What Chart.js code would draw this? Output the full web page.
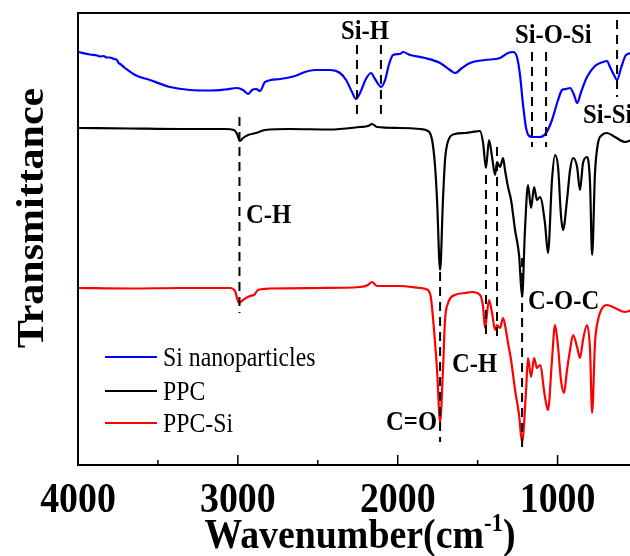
<html lang="en">
<head>
    <meta charset="UTF-8">
    <title>FTIR</title>
    <script src="https://cdn.jsdelivr.net/npm/chart.js"></script>
    <style>
        body {
            margin: 0;
            overflow: hidden;
            background: #fff;
        }
        #box {
            width: 660px;
            height: 556px;
        }
    </style>
</head>
<body>
    <div id="box"><canvas id="ftirChart"></canvas></div>

    <script>
        // wavenumbers (cm-1) and transmittance (a.u.)
        const siWn = [4000, 3925, 3880, 3860, 3840, 3820, 3800, 3775, 3756, 3746, 3736, 3706, 3643, 3550, 3424, 3299, 3174, 3080, 3005, 2968, 2936, 2911, 2886, 2861, 2830, 2736, 2642, 2580, 2517, 2423, 2361, 2323, 2286, 2261, 2236, 2199, 2167, 2142, 2104, 2079, 2054, 2029, 1986, 1967, 1923, 1829, 1735, 1673, 1642, 1598, 1548, 1454, 1360, 1310, 1279, 1254, 1235, 1216, 1197, 1178, 1153, 1110, 1072, 1035, 997, 972, 947, 922, 897, 878, 853, 816, 766, 716, 691, 672, 647, 628, 603, 572, 534, 422];
        const siT  = [413, 410.5, 409.5, 408.5, 409, 407.5, 407.5, 406, 405, 402, 401, 397, 390, 385, 378, 375, 374.5, 375.5, 377, 375, 371, 375, 376, 374, 383, 386, 389, 393, 395, 395, 392, 385, 373, 366, 372, 386, 392, 386, 378, 385, 401, 410, 411, 413, 410, 407, 402, 395, 392, 397, 402, 405, 407, 412, 413, 408, 390, 360, 337, 329, 328, 328, 332, 345, 365, 375, 376, 377, 370, 362, 373, 388, 399, 403, 404, 398, 390, 385, 397, 410, 412, 413];

        const ppcWn = [4000, 3675, 3362, 3080, 3024, 3005, 2987, 2968, 2936, 2886, 2830, 2674, 2423, 2236, 2186, 2161, 2129, 1986, 1861, 1811, 1785, 1767, 1754, 1735, 1717, 1704, 1685, 1642, 1579, 1535, 1485, 1466, 1448, 1429, 1410, 1391, 1379, 1360, 1341, 1329, 1310, 1291, 1266, 1241, 1222, 1204, 1185, 1166, 1147, 1129, 1110, 1079, 1060, 1035, 1016, 997, 979, 966, 941, 922, 903, 878, 860, 841, 816, 797, 784, 766, 747, 722, 691, 641, 578, 534, 422];
        const ppcT  = [337, 336.5, 336, 336, 335, 331, 324, 327, 330, 332, 335, 336, 335.5, 338, 339, 341, 338, 337, 336, 334, 325, 300, 265, 195, 265, 305, 324, 331, 332, 333, 334, 322, 297, 325, 308, 290, 303, 298, 307, 295, 278, 265, 235, 210, 168, 235, 280, 257, 278, 265, 268, 242, 212, 285, 310, 298, 250, 235, 265, 295, 307, 298, 275, 302, 308, 282, 210, 292, 322, 330, 332, 328, 323, 325, 326];

        const ppcSiWn = [4000, 3675, 3362, 3049, 3018, 2993, 2968, 2924, 2899, 2874, 2799, 2486, 2236, 2186, 2161, 2129, 1986, 1861, 1811, 1792, 1773, 1754, 1735, 1717, 1704, 1685, 1642, 1579, 1535, 1485, 1466, 1454, 1429, 1410, 1391, 1379, 1360, 1341, 1329, 1310, 1291, 1266, 1241, 1222, 1197, 1185, 1166, 1147, 1129, 1110, 1079, 1060, 1035, 1016, 997, 979, 960, 941, 922, 903, 878, 860, 841, 816, 797, 784, 766, 747, 716, 691, 641, 578, 534, 422];
        const ppcSiT  = [177, 176.5, 177, 177, 174, 162, 165, 169, 170, 175, 176.5, 177, 178, 180, 183, 179, 179, 177, 175, 167, 135, 95, 43, 95, 145, 162, 170, 172, 173, 170, 158, 137, 165, 152, 135, 140, 137, 147, 140, 122, 105, 75, 50, 23, 75, 107, 88, 107, 97, 100, 68, 55, 105, 140, 118, 85, 72, 95, 115, 130, 118, 107, 125, 140, 115, 52, 122, 145, 158, 160, 157, 153, 155, 156];

        const seriesNames = ['Si nanoparticles', 'PPC', 'PPC-Si'];
        const xTicks = [4000, 3000, 2000, 1000];
        const xMinorTicks = [3500, 2500, 1500, 500];

        // dashed marker lines: wavenumber, top and bottom (a.u.)
        const markWn  = [2990, 2255, 2105, 1160, 1072, 628, 1735, 1448, 1379, 1222];
        const markTop = [348, 420, 420, 413, 413, 445, 193, 290, 318, 207];
        const markBot = [152, 350, 350, 318, 318, 368, 23, 125, 123, 13];

        // band labels: text, wavenumber, baseline (a.u.), alignment
        const labText  = ['Si-H', 'Si-O-Si', 'Si-Si', 'C-H', 'C-H', 'C=O', 'C-O-C'];
        const labWn    = [2205, 1027, 841, 2949, 1660, 1754, 1185];
        const labT     = [426, 422, 342, 242, 93, 35, 156];
        const labAlign = ['center', 'center', 'left', 'left', 'left', 'right', 'left'];

        function pts(wn, t) {
            return wn.map((w, i) => ({ x: w, y: t[i] }));
        }

        function txt(ctx, s, x, y, size, weight, align) {
            ctx.save();
            ctx.translate(x, y);
            ctx.scale(0.88, 1);
            ctx.font = weight + ' ' + size + 'px "Liberation Serif"';
            ctx.textAlign = align;
            ctx.textBaseline = 'alphabetic';
            ctx.fillStyle = '#000';
            ctx.fillText(s, 0, 0);
            ctx.restore();
        }

        const decor = {
            id: 'decor',
            afterDraw(chart) {
                const ctx = chart.ctx;
                const a = chart.chartArea;
                const xs = chart.scales.x, ys = chart.scales.y;

                // frame
                ctx.save();
                ctx.strokeStyle = '#000';
                ctx.lineWidth = 2;
                ctx.strokeRect(a.left, a.top, a.right - a.left, a.bottom - a.top);

                // inward ticks
                ctx.lineWidth = 1.5;
                xTicks.forEach(v => {
                    const px = xs.getPixelForValue(v);
                    ctx.beginPath(); ctx.moveTo(px, a.bottom); ctx.lineTo(px, a.bottom - 10); ctx.stroke();
                });
                xMinorTicks.forEach(v => {
                    const px = xs.getPixelForValue(v);
                    ctx.beginPath(); ctx.moveTo(px, a.bottom); ctx.lineTo(px, a.bottom - 5); ctx.stroke();
                });

                // dashed marker lines
                ctx.lineWidth = 2;
                ctx.setLineDash([9, 6]);
                markWn.forEach((w, i) => {
                    const px = xs.getPixelForValue(w);
                    ctx.beginPath();
                    ctx.moveTo(px, ys.getPixelForValue(markTop[i]));
                    ctx.lineTo(px, ys.getPixelForValue(markBot[i]));
                    ctx.stroke();
                });
                ctx.setLineDash([]);
                ctx.restore();

                // band labels
                labText.forEach((s, i) => {
                    txt(ctx, s, xs.getPixelForValue(labWn[i]), ys.getPixelForValue(labT[i]), 28, 'bold', labAlign[i]);
                });

                // tick labels
                xTicks.forEach(v => {
                    txt(ctx, String(v), xs.getPixelForValue(v), 512, 43, 'bold', 'center');
                });

                // x title with superscript
                ctx.save();
                ctx.font = 'bold 43px "Liberation Serif"';
                const w1 = ctx.measureText('Wavenumber(cm').width;
                const w3 = ctx.measureText(')').width;
                ctx.font = 'bold 26px "Liberation Serif"';
                const w2 = ctx.measureText('-1').width;
                ctx.restore();
                const total = (w1 + w2 + w3) * 0.88;
                let x0 = 360 - total / 2;
                txt(ctx, 'Wavenumber(cm', x0, 548, 43, 'bold', 'left');
                txt(ctx, '-1', x0 + w1 * 0.88, 531, 26, 'bold', 'left');
                txt(ctx, ')', x0 + (w1 + w2) * 0.88, 548, 43, 'bold', 'left');

                // y title
                ctx.save();
                ctx.translate(43, 218);
                ctx.rotate(-Math.PI / 2);
                ctx.scale(1, 0.88);
                ctx.font = 'bold 42px "Liberation Serif"';
                ctx.textAlign = 'center';
                ctx.textBaseline = 'alphabetic';
                ctx.fillStyle = '#000';
                ctx.fillText('Transmittance', 0, 0);
                ctx.restore();

                // legend
                const legY = [357, 391, 423];
                chart.data.datasets.forEach((ds, i) => {
                    ctx.save();
                    ctx.strokeStyle = ds.borderColor;
                    ctx.lineWidth = 2;
                    ctx.beginPath(); ctx.moveTo(105, legY[i]); ctx.lineTo(157, legY[i]); ctx.stroke();
                    ctx.restore();
                    txt(ctx, ds.label, 163, legY[i] + 9, 27, 'normal', 'left');
                });
            }
        };

        const ctx = document.getElementById('ftirChart').getContext('2d');
        const ftirChart = new Chart(ctx, {
            type: 'line',
            data: {
                datasets: [
                    { label: seriesNames[0], data: pts(siWn, siT), borderColor: '#0000ff' },
                    { label: seriesNames[1], data: pts(ppcWn, ppcT), borderColor: '#000000' },
                    { label: seriesNames[2], data: pts(ppcSiWn, ppcSiT), borderColor: '#ff0000' }
                ]
            },
            options: {
                responsive: true,
                maintainAspectRatio: false,
                animation: false,
                layout: { padding: { left: 78, top: 13, right: 6.5, bottom: 91 } },
                elements: {
                    point: { radius: 0 },
                    line: { borderWidth: 2.2, cubicInterpolationMode: 'monotone', fill: false }
                },
                plugins: {
                    legend: { display: false },
                    tooltip: { enabled: false }
                },
                scales: {
                    x: { type: 'linear', reverse: true, min: 400, max: 4000, display: false },
                    y: { min: 0, max: 452, display: false }
                }
            },
            plugins: [decor]
        });
    </script>
</body>
</html>
